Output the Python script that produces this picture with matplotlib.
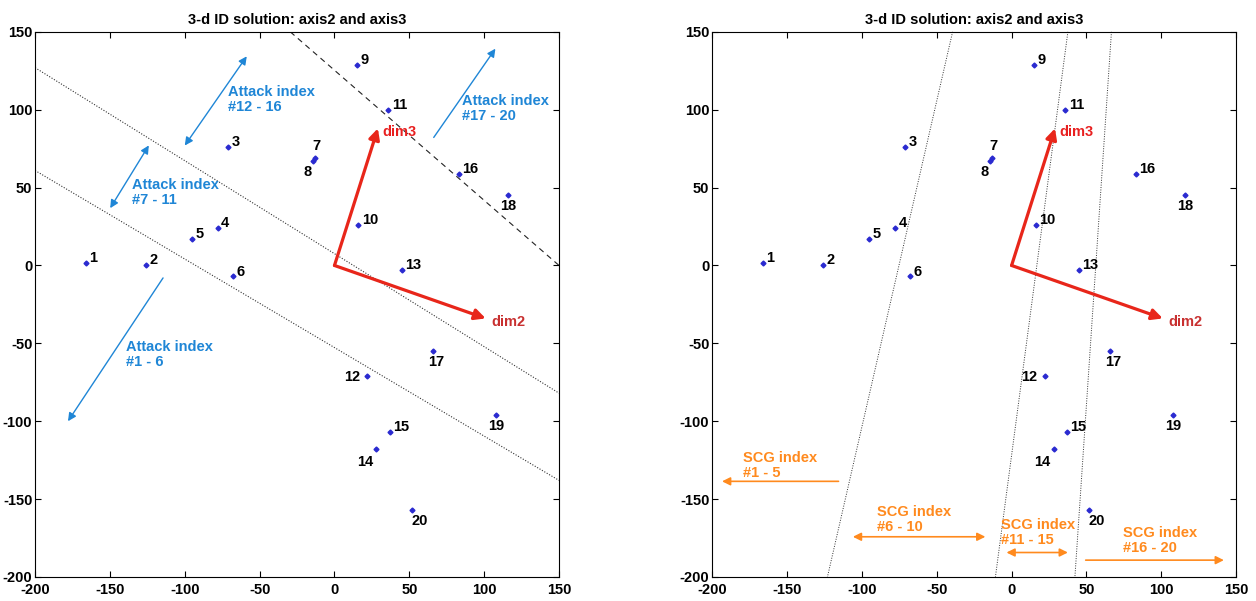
import matplotlib.pyplot as plt
import numpy as np

plt.rcParams['font.family'] = ['Liberation Sans', 'DejaVu Sans']
plt.rcParams['font.weight'] = 'bold'
plt.rcParams['axes.unicode_minus'] = False

# point coordinates (axis2, axis3)
ids = [str(i) for i in range(1, 21)]
axis2 = [-166, -126, -71, -78, -95, -68, -13, -14.5, 15, 16,
         36, 22, 45, 28, 37, 83, 66, 116, 108, 52]
axis3 = [1.5, 0.6, 76, 24, 17, -7, 69, 67, 129, 26,
         100, -71, -3, -118, -107, 59, -55, 45, -96, -157]

# label offsets in points, with horizontal alignment
label_pos = {'7': (1, 9, 'center'), '8': (-4, -8, 'center'),
             '12': (-5, -1, 'right'), '14': (-8, -9, 'center'),
             '17': (2, -8, 'center'), '18': (0, -8, 'center'),
             '19': (0, -8, 'center'), '20': (5, -8, 'center')}

dim3 = (29, 88)
dim2 = (101, -34)

# boundary lines, left panel: (x0, y0, x1, y1)
left_lines = [(-200, 127, 150, -82), (-200, 61, 150, -138)]
left_dashed = [(-29.5, 150, 150, 0)]
# boundary lines, right panel
right_lines = [(-39.4, 150, -123, -200), (37.6, 150, -10.8, -200),
               (66.7, 150, 42.3, -200)]

attack_text = ['Attack index\n#12 - 16', 'Attack index\n#7 - 11',
               'Attack index\n#17 - 20', 'Attack index\n#1 - 6']
attack_text_xy = [(-71, 116), (-135, 56), (85, 110), (-139, -48)]
attack_arrows = [(-100, 77, -58.6, 134.3, '<|-|>'),
                 (-149.8, 36.8, -124, 77.1, '<|-|>'),
                 (66.3, 82.2, 107.5, 139.2, '-|>'),
                 (-114.5, -8, -178, -100, '-|>')]

scg_text = ['SCG index\n#1 - 5', 'SCG index\n#6 - 10',
            'SCG index\n#11 - 15', 'SCG index\n#16 - 20']
scg_text_xy = [(-179.5, -119), (-89.7, -154), (-7.4, -162), (74.6, -167)]
scg_arrows = [(-115.6, -138.6, -193.4, -138.6, '-|>'),
              (-106, -174.2, -17.5, -174.2, '<|-|>'),
              (-3.4, -184.3, 37.6, -184.3, '<|-|>'),
              (49.5, -189.2, 141.8, -189.2, '-|>')]

blue = '#1f86d6'
orange = '#ff8a1e'


def base_panel(ax):
    ax.set_xlim(-200, 150)
    ax.set_ylim(-200, 150)
    ax.set_xticks(np.arange(-200, 151, 50))
    ax.set_yticks(np.arange(-200, 151, 50))
    ax.tick_params(direction='in', top=True, right=True, length=4,
                   labelsize=10.5, pad=2)
    ax.tick_params(axis='x', pad=4.5)
    ax.set_title('3-d ID solution: axis2 and axis3', fontsize=10.5, pad=6,
                 fontweight='bold')
    ax.plot(axis2, axis3, 'D', color='#2a2ad0', markersize=2.5, zorder=5)
    for name, x, y in zip(ids, axis2, axis3):
        dx, dy, ha = label_pos.get(name, (2.5, 3.5, 'left'))
        ax.annotate(name, (x, y), xytext=(dx, dy), textcoords='offset points',
                    ha=ha, va='center', fontsize=10.5)
    for tip, name, col, dx in [(dim3, 'dim3', '#e82020', 3), (dim2, 'dim2', '#c83030', 4)]:
        ax.annotate('', xy=tip, xytext=(0, 0),
                    arrowprops=dict(arrowstyle='-|>', color='#e8261a', lw=2.3,
                                    mutation_scale=16, shrinkA=0, shrinkB=0))
        ax.text(tip[0] + dx, tip[1] - 2, name, color=col, fontsize=10.5,
                va='center')


fig = plt.figure(figsize=(12.56, 6.01), dpi=100)
ax1 = fig.add_axes([0.0279, 0.040, 0.4172, 0.907])
ax2 = fig.add_axes([0.567, 0.040, 0.4172, 0.907])

base_panel(ax1)
for x0, y0, x1, y1 in left_lines:
    ax1.plot([x0, x1], [y0, y1], color='#333333', lw=0.8, ls=(0, (1, 1.5)))
for x0, y0, x1, y1 in left_dashed:
    ax1.plot([x0, x1], [y0, y1], color='#222222', lw=0.8, ls=(0, (5, 4)))
for txt, (x, y) in zip(attack_text, attack_text_xy):
    ax1.text(x, y, txt, color=blue, fontsize=10.5,
             va='top', ha='left', linespacing=1.1)
for x0, y0, x1, y1, st in attack_arrows:
    ax1.annotate('', xy=(x1, y1), xytext=(x0, y0),
                 arrowprops=dict(arrowstyle=st, color=blue, lw=1,
                                 mutation_scale=12, shrinkA=0, shrinkB=0))

base_panel(ax2)
for x0, y0, x1, y1 in right_lines:
    ax2.plot([x0, x1], [y0, y1], color='#333333', lw=0.7, ls=(0, (1, 1.5)),
             clip_on=False)
for txt, (x, y) in zip(scg_text, scg_text_xy):
    ax2.text(x, y, txt, color=orange, fontsize=10.5,
             va='top', ha='left', linespacing=1.1)
for x0, y0, x1, y1, st in scg_arrows:
    ax2.annotate('', xy=(x1, y1), xytext=(x0, y0),
                 arrowprops=dict(arrowstyle=st, color=orange, lw=1.2,
                                 mutation_scale=12, shrinkA=0, shrinkB=0))

fig.savefig('out.png', dpi=100)
